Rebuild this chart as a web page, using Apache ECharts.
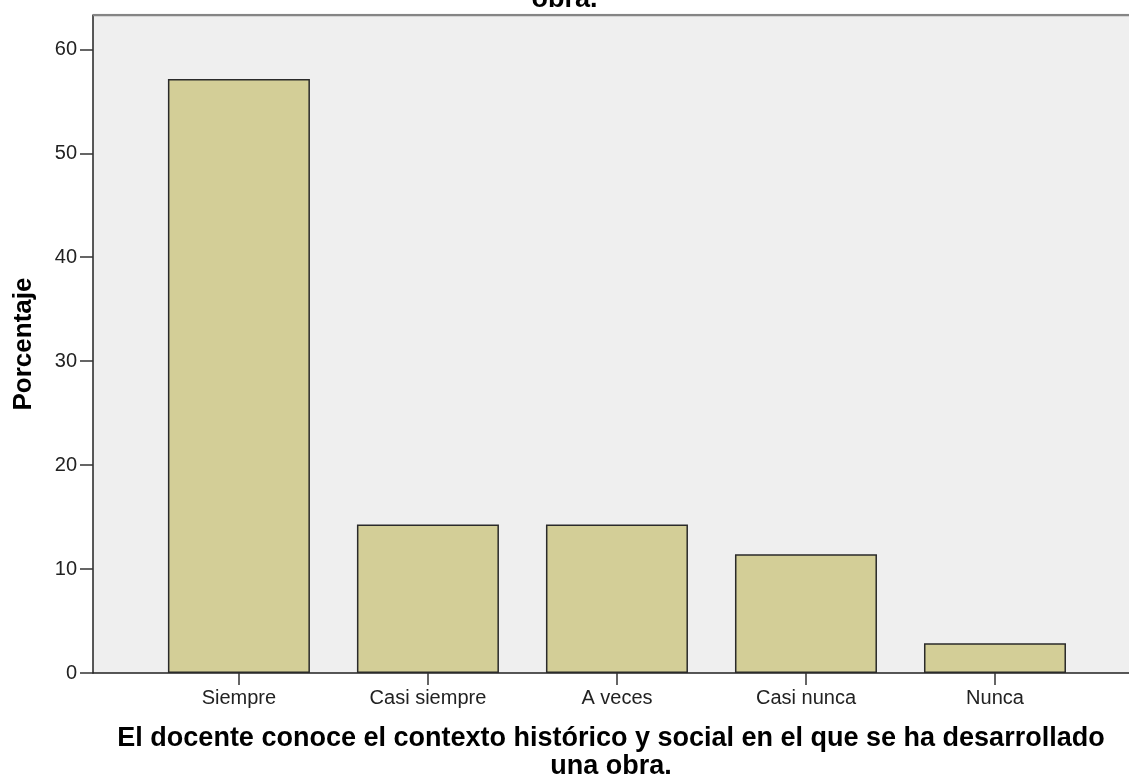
<!DOCTYPE html>
<html>
<head>
<meta charset="utf-8">
<script src="https://cdn.jsdelivr.net/npm/echarts@6/dist/echarts.min.js"></script>
<style>html,body{margin:0;padding:0;background:#fff}#c{width:1129px;height:774px}</style>
</head>
<body>
<div id="c"></div>
<script>
const categories = ['Siempre', 'Casi siempre', 'A veces', 'Casi nunca', 'Nunca'];
const percentages = [57.14, 14.29, 14.29, 11.43, 2.86];
const yTicks = [0, 10, 20, 30, 40, 50, 60];

const FONT = 'Liberation Sans, Arial, sans-serif';
const chart = echarts.init(document.getElementById('c'), null, {renderer: 'canvas'});
const positions = categories.map((_, i) => i);
chart.setOption({
  animation: false,
  backgroundColor: '#ffffff',
  title: {
    text: 'obra.',
    left: 'center',
    top: -20,
    textStyle: {fontFamily: FONT, fontSize: 27, lineHeight: 30, fontWeight: 'bold', color: '#000'}
  },
  grid: {
    left: 93, right: 0, top: 15, bottom: 101,
    containLabel: false,
    outerBoundsMode: 'none',
    show: true, backgroundColor: '#efefef', borderWidth: 0
  },
  xAxis: {
    type: 'value',
    min: -0.772, max: 4.709,
    name: 'El docente conoce el contexto histórico y social en el que se ha desarrollado\nuna obra.',
    nameLocation: 'middle',
    nameGap: 52,
    nameTextStyle: {fontFamily: FONT, fontSize: 27, fontWeight: 'bold', color: '#000', lineHeight: 28},
    axisLine: {show: true, onZero: false, lineStyle: {color: '#222', width: 1.5}},
    axisTick: {show: true, customValues: positions, length: 12, lineStyle: {color: '#333', width: 1.5}},
    axisLabel: {
      show: true, customValues: positions, margin: 15,
      formatter: v => categories[Math.round(v)] || '',
      fontFamily: FONT, fontSize: 20, lineHeight: 20, color: '#222'
    },
    splitLine: {show: false}
  },
  yAxis: {
    type: 'value',
    min: 0, max: 63.3, interval: 10,
    name: 'Porcentaje',
    nameLocation: 'middle',
    nameGap: 56,
    nameTextStyle: {fontFamily: FONT, fontSize: 26, lineHeight: 27, fontWeight: 'bold', color: '#000'},
    axisLine: {show: true, onZero: false, lineStyle: {color: '#222', width: 1.5}},
    axisTick: {show: true, customValues: yTicks, length: 13, lineStyle: {color: '#333', width: 1.5}},
    axisLabel: {
      customValues: yTicks,
      margin: 16, fontFamily: FONT, fontSize: 20, color: '#222',
      formatter: v => String(v)
    },
    splitLine: {show: false}
  },
  series: [{
    type: 'bar',
    data: percentages.map((v, i) => [positions[i], v]),
    barWidth: 142,
    itemStyle: {color: '#d3ce97', borderColor: '#2a2a2a', borderWidth: 1.5}
  }, {
    type: 'line',
    data: [[-0.772, 63.3], [4.709, 63.3]],
    symbol: 'none',
    lineStyle: {color: '#858585', width: 2.5},
    silent: true
  }]
});
</script>
</body>
</html>
